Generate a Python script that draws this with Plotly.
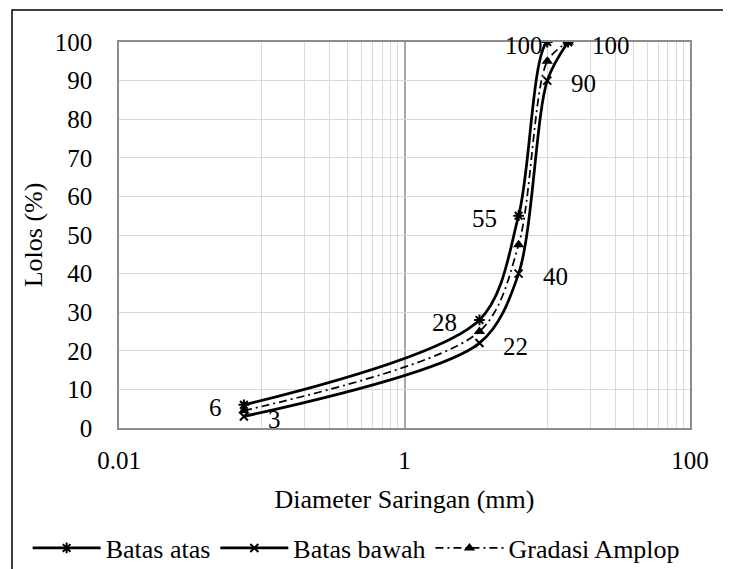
import numpy as np
import plotly.graph_objects as go

# ---- data ----
diameter_mm = [0.075, 3.35, 6.3, 10, 14]
batas_atas = [6, 28, 55, 100, 100]
batas_bawah = [3, 22, 40, 90, 100]
gradasi_amplop = [4.5, 25, 47.5, 95, 100]

x_tick_vals = [0.01, 1, 100]
x_tick_text = ["0.01", "1", "100"]
x_minor_vals = [0.1, 0.2, 0.3, 0.4, 0.5, 0.6, 0.7, 0.8, 0.9,
                10, 20, 30, 40, 50, 60, 70, 80, 90]

# labels shown (upper: left side, lower: right side)
atas_label_show = [True, True, True, True, False]
bawah_label_show = [True, True, True, True, True]

FONT = "Liberation Serif"
FS_TICK = 25
FS_TITLE = 26
SMOOTH = 0.85

fig = go.Figure()

fig.add_trace(go.Scatter(
    x=diameter_mm, y=batas_atas, name="Batas atas", mode="lines+markers",
    line=dict(color="black", width=2.75, shape="spline", smoothing=SMOOTH),
    marker=dict(symbol="asterisk-open", size=9, color="black",
                line=dict(width=2, color="black")),
))
fig.add_trace(go.Scatter(
    x=diameter_mm, y=batas_bawah, name="Batas bawah", mode="lines+markers",
    line=dict(color="black", width=2.75, shape="spline", smoothing=SMOOTH),
    marker=dict(symbol="x-thin-open", size=8, color="black",
                line=dict(width=2, color="black")),
))
fig.add_trace(go.Scatter(
    x=diameter_mm, y=gradasi_amplop, name="Gradasi Amplop", mode="lines+markers",
    line=dict(color="black", width=1.75, shape="spline", smoothing=SMOOTH,
              dash="8px,4px,2px,4px"),
    marker=dict(symbol="triangle-up", size=10, color="black"),
))

annotations = []
left_shift = [-20, -20, -20, -2, -20]
for xv, yv, show, dx in zip(diameter_mm, batas_atas, atas_label_show, left_shift):
    if show:
        annotations.append(dict(
            x=np.log10(xv), y=yv, xref="x", yref="y", text=str(yv),
            showarrow=False, xanchor="right", yanchor="middle",
            xshift=dx, yshift=-3, font=dict(family=FONT, size=FS_TICK, color="black")))
for xv, yv, show in zip(diameter_mm, batas_bawah, bawah_label_show):
    if show:
        annotations.append(dict(
            x=np.log10(xv), y=yv, xref="x", yref="y", text=str(yv),
            showarrow=False, xanchor="left", yanchor="middle",
            xshift=22, yshift=-3, font=dict(family=FONT, size=FS_TICK, color="black")))

fig.update_layout(
    width=723, height=561, autosize=False,
    margin=dict(l=111, r=41, t=34, b=141, autoexpand=False),
    paper_bgcolor="white", plot_bgcolor="white",
    font=dict(family=FONT, size=FS_TICK, color="black"),
    showlegend=True,
    legend=dict(orientation="h", xref="paper", yref="paper",
                x=-0.16, xanchor="left", y=-0.311, yanchor="middle",
                font=dict(family=FONT, size=FS_TITLE, color="black"),
                itemwidth=68, bgcolor="rgba(0,0,0,0)"),
    annotations=annotations,
    shapes=[dict(type="rect", xref="paper", yref="paper",
                 x0=-0.1874, x1=1.09, y0=-0.40, y1=1.0829,
                 line=dict(color="black", width=1.5), layer="above")],
)

fig.update_xaxes(
    type="log", range=[-2, 2],
    tickvals=x_tick_vals, ticktext=x_tick_text,
    showgrid=True, gridcolor="#a6a6a6", gridwidth=1.5,
    minor=dict(tickvals=x_minor_vals, showgrid=True, gridcolor="#d9d9d9", gridwidth=1),
    showline=True, linecolor="#8c8c8c", linewidth=1.5, mirror=True,
    zeroline=False, ticks="", ticklabelstandoff=9,
    tickfont=dict(family=FONT, size=FS_TICK, color="black"),
    title=dict(text="Diameter Saringan (mm)", standoff=17,
               font=dict(family=FONT, size=FS_TITLE, color="black")),
)
fig.update_yaxes(
    range=[0, 100], dtick=10, tick0=0,
    showgrid=True, gridcolor="#d9d9d9", gridwidth=1,
    showline=True, linecolor="#8c8c8c", linewidth=1.5, mirror=True,
    zeroline=False, ticks="", ticklabelstandoff=20,
    tickfont=dict(family=FONT, size=FS_TICK, color="black"),
    title=dict(text="Lolos (%)", standoff=5,
               font=dict(family=FONT, size=FS_TITLE, color="black")),
)

fig.write_html("out.html")
